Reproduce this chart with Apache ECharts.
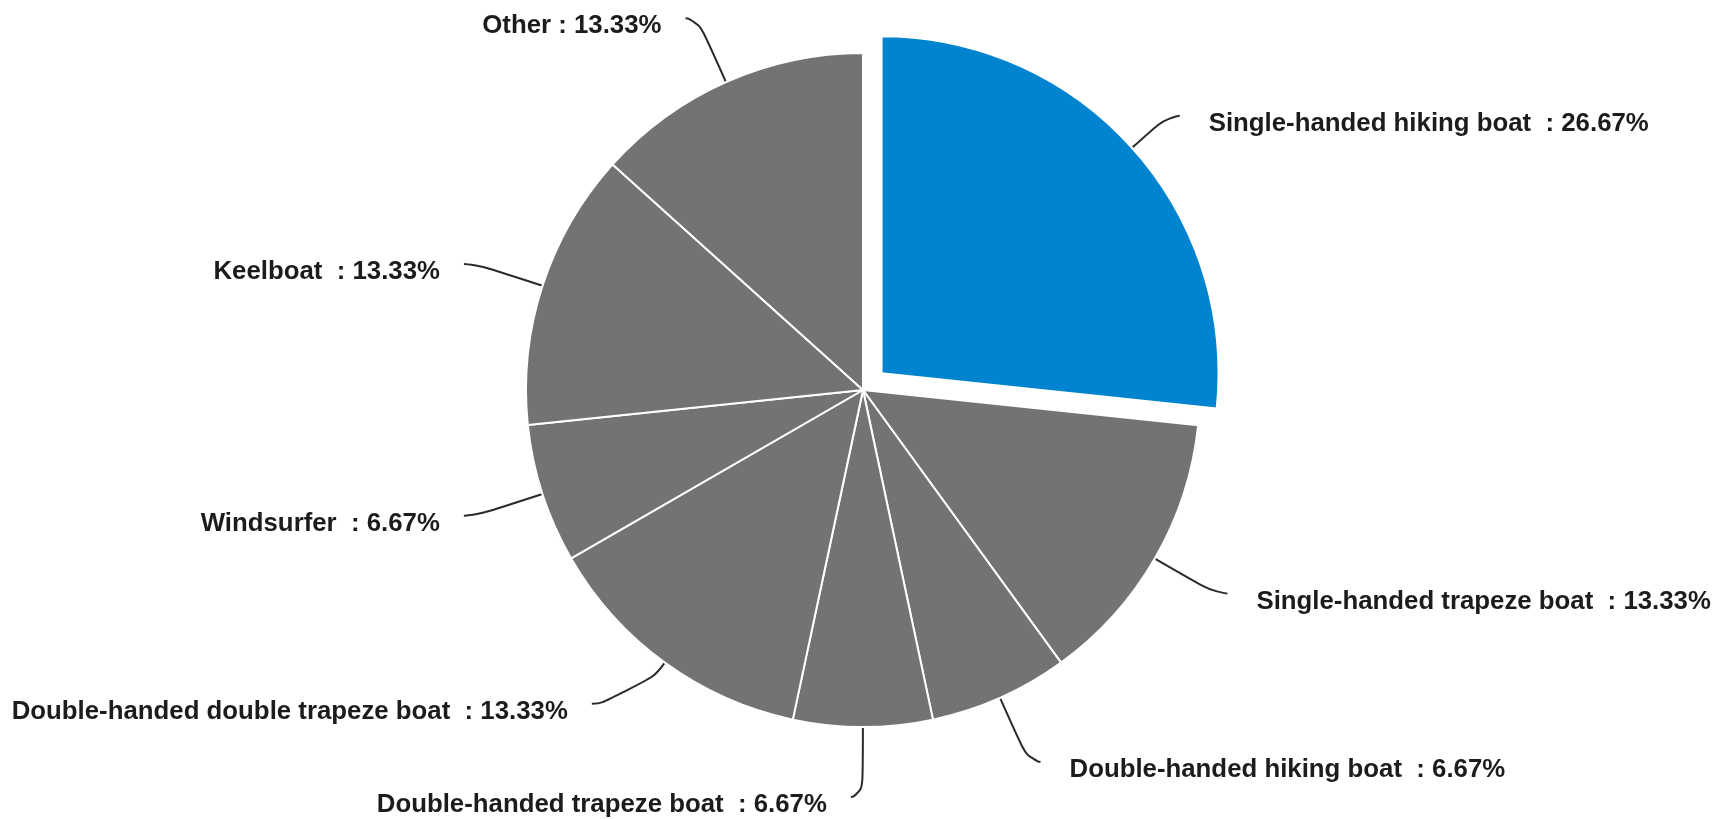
<!DOCTYPE html>
<html>
<head>
<meta charset="utf-8">
<script src="https://cdn.jsdelivr.net/npm/echarts@6/dist/echarts.min.js"></script>
<style>
  html, body { margin: 0; padding: 0; background: #ffffff; }
  #chart { width: 1730px; height: 819px; }
</style>
</head>
<body>
<div id="chart"></div>
<script>
// Boat classes and their share of the fleet, in percent
const boatClasses = [
  'Single-handed hiking boat ',
  'Single-handed trapeze boat ',
  'Double-handed hiking boat ',
  'Double-handed trapeze boat ',
  'Double-handed double trapeze boat ',
  'Windsurfer ',
  'Keelboat ',
  'Other'
];
const boatShares = [26.67, 13.33, 6.67, 6.67, 13.33, 6.67, 13.33, 13.33];
const highlightedClass = 'Single-handed hiking boat ';

const BLUE = '#0084cf';
const GREY = '#737373';

const pieData = boatClasses.map(function (name, i) {
  const item = { name: name, value: boatShares[i] };
  if (name === highlightedClass) {
    item.selected = true;
    item.itemStyle = { color: BLUE };
    item.select = { itemStyle: { color: BLUE } };
    // the pulled-out slice carries its label along, so its leader is shorter
    item.labelLine = { length: 48, length2: 12 };
  }
  if (name === 'Double-handed double trapeze boat ') {
    item.labelLine = { length: 51, length2: 43 };
  }
  return item;
});

const chart = echarts.init(document.getElementById('chart'), null, { renderer: 'canvas' });
chart.setOption({
  animation: false,
  backgroundColor: '#ffffff',
  series: [{
    type: 'pie',
    center: [863, 390],
    radius: 337,
    startAngle: 90,
    clockwise: true,
    selectedMode: 'single',
    selectedOffset: 25,
    avoidLabelOverlap: false,
    itemStyle: { color: GREY, borderColor: '#ffffff', borderWidth: 2 },
    label: {
      show: true,
      formatter: '{b} : {c}%',
      color: '#1c1c1c',
      fontFamily: '"Liberation Sans", Arial, sans-serif',
      fontWeight: 'bold',
      fontSize: 25.8,
      distanceToLabelLine: 24,
      overflow: 'none'
    },
    labelLine: {
      show: true,
      length: 70,
      length2: 12,
      smooth: 0.8,
      lineStyle: { color: '#2a2a2a', width: 2 }
    },
    // labels sit a little below the end of their leader lines;
    // right-hand labels keep a slightly wider gap
    labelLayout: function (p) {
      return {
        dx: p.align === 'left' ? 5 : 0,
        dy: 8,
        labelLinePoints: p.labelLinePoints
      };
    },
    emphasis: { disabled: true },
    data: pieData
  }]
});
</script>
</body>
</html>
